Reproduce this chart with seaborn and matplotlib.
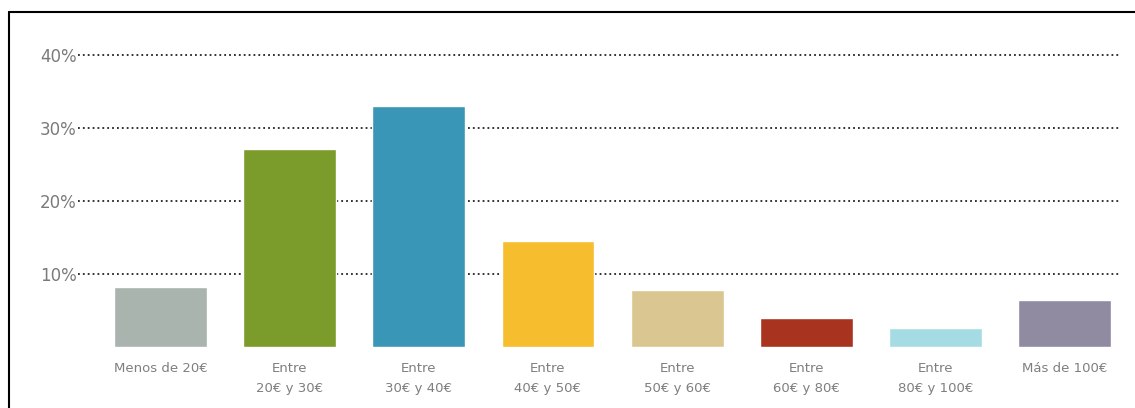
import matplotlib
matplotlib.use("Agg")
import matplotlib.pyplot as plt
import seaborn as sns
import pandas as pd
from matplotlib.lines import Line2D

categories = ["Menos de 20€", "Entre\n20€ y 30€", "Entre\n30€ y 40€", "Entre\n40€ y 50€",
              "Entre\n50€ y 60€", "Entre\n60€ y 80€", "Entre\n80€ y 100€", "Más de 100€"]
values = [8.2, 27.1, 33.0, 14.5, 7.8, 4.0, 2.6, 6.4]
colors = ["#aab4af", "#7b9b2b", "#3a96b6", "#f6bd2e", "#dac690", "#a8331f", "#a5dbe3", "#908ba1"]
yticks = [10, 20, 30, 40]
ytick_labels = ["10%", "20%", "30%", "40%"]

sns.set_theme(style="white")
plt.rcParams['font.family'] = ['DejaVu Sans']

W, H = 1135, 408
fig = plt.figure(figsize=(W / 100, H / 100), dpi=100)
ax = fig.add_axes([78 / W, (H - 347) / H, (1120 - 78) / W, (347 - 40) / H])

df = pd.DataFrame({"cat": categories, "val": values})
sns.barplot(data=df, x="cat", y="val", hue="cat", palette=colors, legend=False,
            width=0.72, ax=ax, saturation=1, zorder=3)

ax.set_xlim(-0.64, 7.43)
ax.set_ylim(0, 42)
ax.set_yticks(yticks)
ax.set_yticklabels(ytick_labels, fontsize=12, color="#7a7a7a")
ax.tick_params(axis="y", length=0, pad=1)
ax.tick_params(axis="x", length=0, pad=11, labelsize=9.5, labelcolor="#7f7f7f")
for t in ax.get_xticklabels():
    t.set_linespacing(1.7)
ax.set_xlabel("")
ax.set_ylabel("")
for s in ax.spines.values():
    s.set_visible(False)
ax.yaxis.grid(True, linestyle=(0, (1, 1.7)), linewidth=1.3, color="#222222", zorder=1)
ax.xaxis.grid(False)
ax.set_axisbelow(True)

# frame border
fig.add_artist(Line2D([9 / W, 9 / W], [0, (H - 12) / H], color="black", lw=1.5, transform=fig.transFigure))
fig.add_artist(Line2D([9 / W, 1], [(H - 12) / H, (H - 12) / H], color="black", lw=1.5, transform=fig.transFigure))

fig.savefig("out.png", dpi=100)
